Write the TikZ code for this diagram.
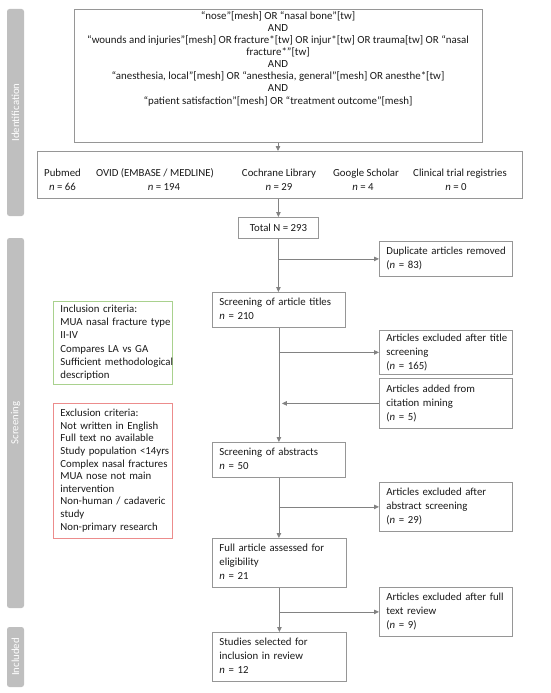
\documentclass[tikz,border=0pt]{standalone}
\usepackage{fontspec}
\setmainfont{Carlito}
\usetikzlibrary{arrows.meta}
\definecolor{txt}{RGB}{25,25,25}
\definecolor{boxline}{RGB}{150,150,150}
\definecolor{arrline}{RGB}{130,130,130}
\definecolor{bar}{RGB}{191,191,191}
\definecolor{incl}{RGB}{169,209,142}
\definecolor{excl}{RGB}{236,140,140}
\newcommand\boxlines[1]{\noindent\begin{tabular}{@{}l@{}}#1\end{tabular}}
\tikzset{
  box/.style={draw=boxline, line width=0.8pt, rectangle, anchor=north west, inner xsep=7pt, inner ysep=0pt,
    align=left, text=txt, font=\fontsize{10.8}{14}\selectfont},
  critbox/.style={box, font=\fontsize{10.8}{13.1}\selectfont},
  sidebar/.style={fill=bar, rounded corners=2.5pt, rotate=90, text=white, inner sep=0pt,
    font=\fontsize{10.8}{12}\selectfont, minimum height=17pt},
  dbtxt/.style={align=center, text=txt, inner sep=0pt, font=\fontsize{10.8}{14}\selectfont},
  arr/.style={draw=arrline, line width=0.8pt, -{Triangle[length=5pt,width=4.5pt]}}
}
\begin{document}
\begin{tikzpicture}[x=1pt,y=-1pt]
\useasboundingbox (0,0) rectangle (550,693);
% side bars
\node[sidebar, minimum width=207pt] (idbar) at (15.5,112.5) {Identification};
\node[sidebar, minimum width=370pt] (scbar) at (15.5,423) {Screening};
\node[sidebar, minimum width=60pt] (inbar) at (15.5,657) {Included};
% search box
\node[box, minimum width=408pt, minimum height=133pt] (search) at (74,9) {};
\node[anchor=north, inner sep=0pt, align=center, text=txt, font=\fontsize{10.9}{12.15}\selectfont] (searchtxt) at (278,11)
 {“nose”[mesh] OR “nasal bone”[tw]\\
  AND\\
  “wounds and injuries”[mesh] OR fracture*[tw] OR injur*[tw] OR trauma[tw] OR “nasal\\
  fracture*”[tw]\\
  AND\\
  “anesthesia, local”[mesh] OR “anesthesia, general”[mesh] OR anesthe*[tw]\\
  AND\\
  “patient satisfaction”[mesh] OR “treatment outcome”[mesh]};
% databases
\node[box, minimum width=485pt, minimum height=47pt] (db) at (37,151) {};
\node[dbtxt] (pub) at (62.5,180) {Pubmed\\\textit{n} = 66};
\node[dbtxt] (ovid) at (155,180) {OVID (EMBASE / MEDLINE)\\\hspace*{18pt}\textit{n} = 194};
\node[dbtxt] (coch) at (279,180) {Cochrane Library\\\textit{n} = 29};
\node[dbtxt] (goog) at (366,180) {Google Scholar\\\textit{n} = 4\hspace*{6pt}};
\node[dbtxt] (clin) at (460,180) {Clinical trial registries\\\textit{n} = 0\hspace*{8pt}};
% total
\node[box, minimum width=80pt, minimum height=21pt, align=center, inner xsep=2pt] (total) at (238,217) {Total N = 293};
% main column
\node[box, minimum width=133pt, minimum height=35pt, text width=119pt] (titles) at (212,292) {\boxlines{Screening of article titles\\\textit{n} = 210}};
\node[box, minimum width=133pt, minimum height=35pt, text width=119pt] (abs) at (212,442) {\boxlines{Screening of abstracts\\\textit{n} = 50}};
\node[box, minimum width=134pt, minimum height=49pt, text width=120pt] (full) at (212,538) {\boxlines{Full article assessed for\\eligibility\\\textit{n} = 21}};
\node[box, minimum width=134pt, minimum height=49pt, text width=120pt] (stud) at (212,632) {\boxlines{Studies selected for\\inclusion in review\\\textit{n} = 12}};
% right column
\node[box, minimum width=133pt, minimum height=35pt, text width=119pt] (dup) at (379,241) {\boxlines{Duplicate articles removed\\(\textit{n} = 83)}};
\node[box, minimum width=133pt, minimum height=44pt, text width=119pt] (extit) at (379,330) {\boxlines{Articles excluded after title\\screening\\(\textit{n} = 165)}};
\node[box, minimum width=133pt, minimum height=50pt, text width=119pt] (cite) at (379,378) {\boxlines{Articles added from\\citation mining\\(\textit{n} = 5)}};
\node[box, minimum width=133pt, minimum height=49pt, text width=119pt] (exabs) at (379,482) {\boxlines{Articles excluded after\\abstract screening\\(\textit{n} = 29)}};
\node[box, minimum width=133pt, minimum height=49pt, text width=119pt] (exfull) at (379,587) {\boxlines{Articles excluded after full\\text review\\(\textit{n} = 9)}};
% criteria
\node[critbox, draw=incl, minimum width=119pt, minimum height=83pt, text width=105pt] (inc) at (53,301)
 {\boxlines{Inclusion criteria:\\MUA nasal fracture type\\II-IV\\Compares LA vs GA\\Sufficient methodological\\description}};
\node[critbox, draw=excl, minimum width=119pt, minimum height=135pt, text width=105pt, font=\fontsize{10.8}{12.6}\selectfont] (exc) at (53,403)
 {\boxlines{Exclusion criteria:\\Not written in English\\Full text no available\\Study population <14yrs\\Complex nasal fractures\\MUA nose not main\\intervention\\Non-human / cadaveric\\study\\Non-primary research}};
% connectors
\draw[arr] (search.south -| searchtxt.south) -- (searchtxt.south |- db.north);
\draw[arr] (db.south -| total.north) -- (total.north);
\draw[arr] (total.south) -- (total.south |- titles.north);
\coordinate (b1) at (total.south |- dup.west);
\draw[arr] (b1) -- (dup.west);
\draw[arr] (titles.south) -- (titles.south |- abs.north);
\coordinate (b2) at (titles.south |- extit.west);
\draw[arr] (b2) -- (extit.west);
\coordinate (b3) at ([xshift=3pt]titles.south |- cite.west);
\draw[arr] (cite.west) -- (b3);
\draw[arr] (abs.south) -- (abs.south |- full.north);
\coordinate (b4) at (abs.south |- exabs.west);
\draw[arr] (b4) -- (exabs.west);
\draw[arr] (full.south) -- (full.south |- stud.north);
\coordinate (b5) at (full.south |- exfull.west);
\draw[arr] (b5) -- (exfull.west);
\end{tikzpicture}
\end{document}
